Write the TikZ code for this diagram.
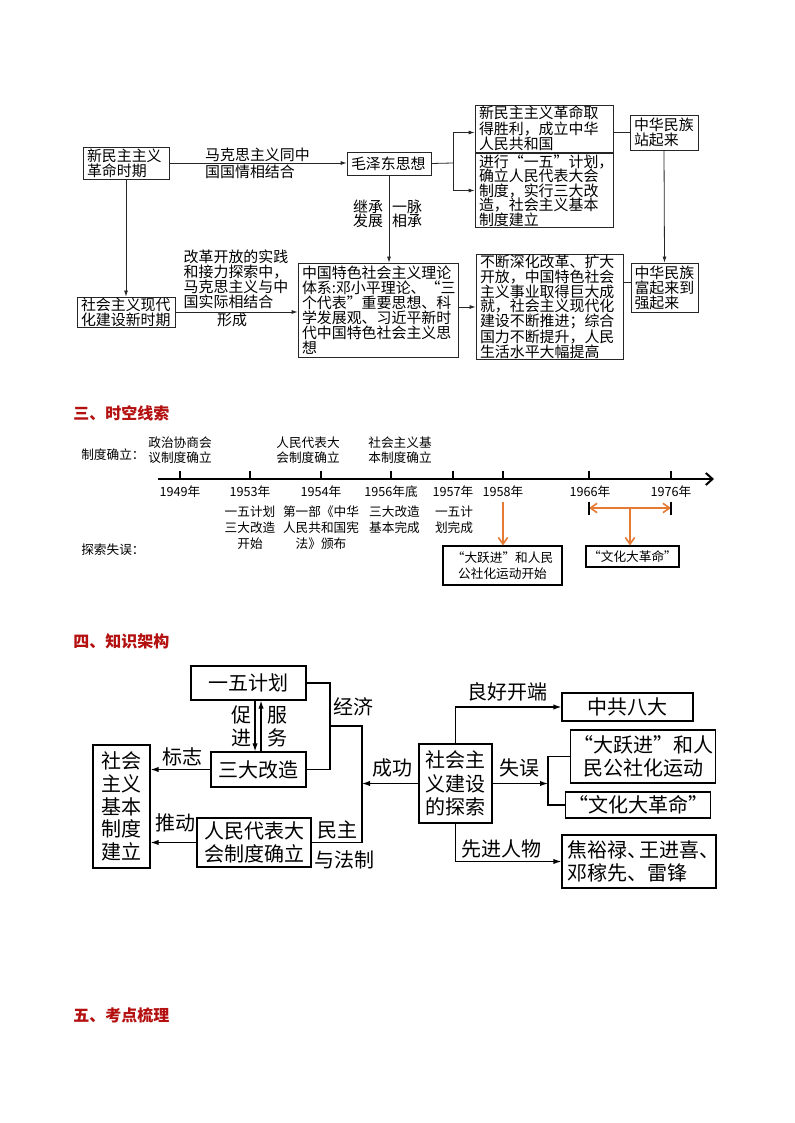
\documentclass[tikz,border=0pt]{standalone}
\usepackage{fontspec}
\setmainfont{Noto Sans CJK SC}
\usetikzlibrary{arrows.meta}
\definecolor{hd}{RGB}{180,16,16}
\definecolor{org}{RGB}{228,122,52}
\newcommand\fs[2]{\fontsize{#1pt}{#2pt}\selectfont}
\begin{document}
\begin{tikzpicture}[x=0.75pt,y=-0.75pt,
  tbox/.style={draw=black!85, line width=0.6pt, font=\fs{11.2}{11.2}, align=left, inner xsep=3pt, inner ysep=0.5pt},
  tlab/.style={font=\fs{11.2}{12.75}, align=left, inner sep=0pt},
  arr/.style={-{Latex[length=4.5pt,width=3pt]}, line width=0.6pt, draw=black!85},
  tl/.style={font=\fs{9.5}{11.25}, align=center, inner sep=0pt},
  tlo/.style={font=\fs{9.5}{12}, align=center, inner sep=0pt},
  obox/.style={draw, line width=0.8pt, font=\fs{9.5}{11.5}, align=center, inner sep=1pt},
  oarr/.style={draw=org, line width=1.2pt, -{Straight Barb[length=5pt,width=7pt]}},
  fbox/.style={draw, line width=0.9pt, font=\fs{15}{17}, align=center, inner sep=2pt},
  flab/.style={font=\fs{15}{17}, align=center, inner sep=0pt},
  farr/.style={-{Latex[length=6pt,width=4pt]}, line width=0.9pt},
  fline/.style={line width=0.9pt},
  head/.style={font=\fs{12}{14}\bfseries, text=hd, anchor=west, inner sep=0pt}
]
\path[use as bounding box, fill=white] (0,0) rectangle (794,1123);

% ---------------- top diagram ----------------
\node[tbox, text width=58.5pt, minimum height=24pt] (n1) at (126,163) {新民主主义\\革命时期};
\node[tbox, text width=57pt, minimum height=17.25pt] (n2) at (389,163.5) {毛泽东思想};
\node[tbox, text width=97.5pt, minimum height=35.25pt, font=\fs{11.2}{11.6}] (nA) at (544,128.5) {新民主主义革命取\\得胜利，成立中华\\人民共和国};
\node[tbox, text width=97.5pt, minimum height=55.5pt, font=\fs{11.2}{10.9}] (nB) at (544,190.5) {进行“一五”计划，\\确立人民代表大会\\制度，实行三大改\\造，社会主义基本\\制度建立};
\node[tbox, text width=45pt, minimum height=26.25pt] (nS) at (664,132.5) {中华民族\\站起来};
\node[tbox, text width=45pt, minimum height=36.75pt, inner xsep=2.6pt] (nF) at (664.5,287.5) {中华民族\\富起来到\\强起来};
\node[tbox, text width=114pt, minimum height=70.5pt] (nT) at (378,310) {中国特色社会主义理论\\体系:邓小平理论、“三\\个代表”重要思想、科\\学发展观、习近平新时\\代中国特色社会主义思\\想};
\node[tbox, text width=104.25pt, minimum height=78pt, font=\fs{11.2}{11}] (nC) at (549.5,307) {不断深化改革、扩大\\开放，中国特色社会\\主义事业取得巨大成\\就，社会主义现代化\\建设不断推进；综合\\国力不断提升，人民\\生活水平大幅提高};
\node[tbox, text width=67.5pt, minimum height=22.5pt] (nX) at (126,312) {社会主义现代\\化建设新时期};

\node[tlab] (l1) at (257.5,163.5) {马克思主义同中\\国国情相结合};
\node[tlab, font=\fs{11.2}{10.5}] (l2) at (368,214) {继承\\发展};
\node[tlab, font=\fs{11.2}{10.5}] (l3) at (407,214) {一脉\\相承};
\node[tlab, font=\fs{11.2}{11.25}] (l4) at (236,279.5) {改革开放的实践\\和接力探索中，\\马克思主义与中\\国实际相结合};
\node[tlab] (l5) at (232,320) {形成};

\coordinate (b1) at (453,163);
\draw[arr] (n1.east) -- (n1.east -| n2.west);
\draw[line width=0.6pt, draw=black!85] (n2.east) -- (b1);
\draw[arr] (b1) |- ([yshift=-3pt]nA.west);
\draw[arr] (b1) |- (nB.west);
\draw[line width=0.6pt, draw=black!85] (nS.west) -- (nS.west -| nA.east);
\draw[arr] (nS.south) -- (nF.north);
\draw[arr] (n2.south) -- (n2.south |- nT.north);
\draw[arr] (n1.south) -- (nX.north);
\draw[arr] (nX.east) -- (nX.east -| nT.west);
\draw[arr] (nC.west -| nT.east) -- (nC.west);
\draw[line width=0.6pt, draw=black!85] ([yshift=3.5pt]nF.west) -- ([yshift=3.5pt]nF.west -| nC.east);

% ---------------- timeline ----------------
\node[head] (h3) at (73,413) {三、时空线索};
\node[tl, anchor=west] (c1) at (81,455) {制度确立：};
\node[tl, anchor=west] (c2) at (81,550) {探索失误：};

\coordinate (ax0) at (158,479);
\coordinate (ax1) at (714,479);
\draw[line width=1.5pt, -{Straight Barb[length=5pt,width=9pt]}] (ax0) -- (ax1);
\foreach \x/\nm in {180/t49,250/t53,321/t54,391/t56,453/t57,503/t58,589/t66,671/t76}{
  \coordinate (\nm) at (\x,479);
  \draw[line width=1.5pt] (\x,470.5) -- (\nm);
}
\node[tl] (y49) at (180,492) {1949年};
\node[tl] (y53) at (250,492) {1953年};
\node[tl] (y54) at (321,492) {1954年};
\node[tl] (y56) at (391,492) {1956年底};
\node[tl] (y57) at (453,492) {1957年};
\node[tl] (y58) at (503,492) {1958年};
\node[tl] (y66) at (590,492) {1966年};
\node[tl] (y76) at (671,492) {1976年};

\node[tl] (u1) at (180,450.5) {政治协商会\\议制度确立};
\node[tl] (u2) at (308,450.5) {人民代表大\\会制度确立};
\node[tl] (u3) at (400,450.5) {社会主义基\\本制度确立};

\node[tlo] (d1) at (250,528) {一五计划\\三大改造\\开始};
\node[tlo] (d2) at (321,528) {第一部《中华\\人民共和国宪\\法》颁布};
\node[tlo] (d3) at (394.5,520) {三大改造\\基本完成};
\node[tlo] (d4) at (454,520) {一五计\\划完成};

\node[obox, minimum width=89.25pt, minimum height=29.25pt] (e1) at (502.5,565.5) {“大跃进”和人民\\公社化运动开始};
\node[obox, minimum width=69.75pt, minimum height=15.75pt] (e2) at (632.5,556.5) {“文化大革命”};
\coordinate (o58) at (503,502);
\draw[oarr] (o58) -- (o58 |- e1.north);
\coordinate (r0) at (589,508);
\coordinate (r1) at (671,508);
\coordinate (rm) at (630,508);
\draw[draw=org, line width=1.2pt, {Straight Barb[length=5pt,width=7pt]}-{Straight Barb[length=5pt,width=7pt]}] (r0) -- (r1);
\draw[line width=1.3pt] (589,501.5) -- (589,514.5);
\draw[line width=1.3pt] (671,501.5) -- (671,514.5);
\draw[oarr] (rm) -- (rm |- e2.north);

% ---------------- framework ----------------
\node[head] (h4) at (73,641) {四、知识架构};
\node[fbox, minimum width=86.25pt, minimum height=25.5pt] (f1) at (248.5,683) {一五计划};
\node[fbox, minimum width=71.25pt, minimum height=26.25pt] (f2) at (258.5,769.5) {三大改造};
\node[fbox, minimum width=42.75pt, minimum height=92.25pt] (f3) at (121.5,806.5) {社会\\主义\\基本\\制度\\建立};
\node[fbox, minimum width=85.5pt, minimum height=36.75pt] (f4) at (254,842.5) {人民代表大\\会制度确立};
\node[fbox, minimum width=54.75pt, minimum height=59.25pt, font=\fs{15}{17.5}] (f5) at (455.5,783.5) {社会主\\义建设\\的探索};
\node[fbox, minimum width=98.25pt, minimum height=21pt] (f6) at (627.5,707) {中共八大};
\node[fbox, minimum width=106.5pt, minimum height=39.75pt] (f7) at (643,756.5) {“大跃进”和人\\民公社化运动};
\node[fbox, minimum width=99pt, minimum height=19.5pt] (f8) at (638,805) {“文化大革命”};
\node[fbox, minimum width=115.5pt, minimum height=39.75pt, align=left] (f9) at (639,861.5) {焦裕禄\makebox[0.6em][l]{、}王进喜\makebox[0.6em][l]{、}\\邓稼先、雷锋};

\coordinate (jA) at (330,726);
\coordinate (jB) at (362,726);
\coordinate (jC) at (548,783.5);
\draw[fline] (f1.east) -| (jA) |- (f2.east);
\draw[fline] (jA) -- (jB) |- (f4.east);
\draw[farr] (f5.west) -- (f5.west -| jB);
\draw[farr] ([xshift=-2.6pt]f2.north |- f1.south) -- ([xshift=-2.6pt]f2.north);
\draw[farr] ([xshift=1.9pt]f2.north) -- ([xshift=1.9pt]f2.north |- f1.south);
\draw[farr] (f2.west) -- (f2.west -| f3.east);
\draw[farr] (f4.west) -- (f4.west -| f3.east);
\draw[farr] (f5.north) |- (f6.west);
\draw[farr] (f5.south) |- (f9.west);
\draw[farr] (f5.east) -- (jC);
\draw[fline] (f7.west) -| (jC);
\draw[fline] (jC) |- (f8.west);

\node[flab] (g1) at (353,707) {经济};
\node[flab] (g2) at (337.5,830) {民主};
\node[flab] (g3) at (344,860) {与法制};
\node[flab] (g4) at (241,726.5) {促\\进};
\node[flab] (g5) at (277,726.5) {服\\务};
\node[flab] (g6) at (182,757) {标志};
\node[flab] (g7) at (175,823) {推动};
\node[flab] (g8) at (392,768) {成功};
\node[flab] (g9) at (519,768) {失误};
\node[flab] (g10) at (507.5,692) {良好开端};
\node[flab] (g11) at (501.5,849) {先进人物};

\node[head] (h5) at (73,1015) {五、考点梳理};
\end{tikzpicture}
\end{document}
